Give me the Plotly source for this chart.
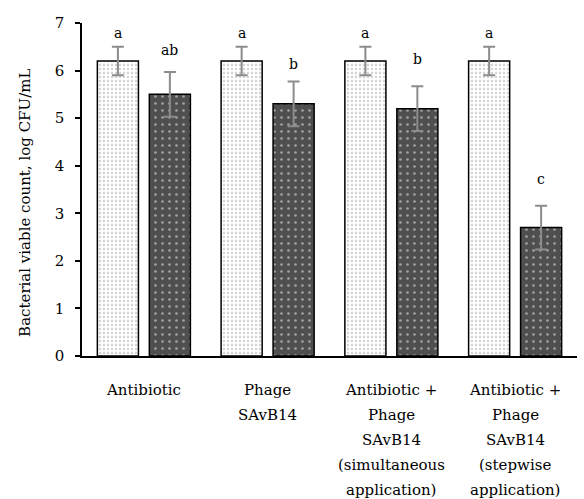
import plotly.graph_objects as go

# Treatment groups (multi-line category labels)
categories = [
    "Antibiotic",
    "Phage<br>SAvB14",
    "Antibiotic +<br>Phage<br>SAvB14<br>(simultaneous<br>application)",
    "Antibiotic +<br>Phage<br>SAvB14<br>(stepwise<br>application)",
]

# Bacterial viable counts (log CFU/mL) and their standard deviations
control_means = [6.2, 6.2, 6.2, 6.2]
control_sd = [0.3, 0.3, 0.3, 0.3]
treated_means = [5.5, 5.3, 5.2, 2.7]
treated_sd = [0.47, 0.47, 0.47, 0.46]

# Significance letters above each bar
control_letters = ["a", "a", "a", "a"]
treated_letters = ["ab", "b", "b", "c"]

FONT = "DejaVu Serif"
keys = [f"g{i}" for i in range(len(categories))]

fig = go.Figure()
fig.add_trace(go.Bar(
    x=keys, y=control_means,
    error_y=dict(type="data", array=control_sd, color="#8c8c8c", thickness=2, width=6),
    marker=dict(
        color="white",
        line=dict(color="black", width=1.5),
        pattern=dict(shape=".", fgcolor="#a8a8a8", bgcolor="white", size=4, solidity=0.3),
    ),
    showlegend=False,
))
fig.add_trace(go.Bar(
    x=keys, y=treated_means,
    error_y=dict(type="data", array=treated_sd, color="#8c8c8c", thickness=2, width=6),
    marker=dict(
        color="#4f4f4f",
        line=dict(color="black", width=1.5),
        pattern=dict(shape=".", fgcolor="#f2f2f2", bgcolor="#4f4f4f", size=7, solidity=0.12),
    ),
    showlegend=False,
))

annotations = []
# letters: control bars sit left of centre, treated bars right
letter_gap = [[14, 14, 14, 14], [22, 18, 27, 27]]
for series, (means, sds, letters, shift) in enumerate([
    (control_means, control_sd, control_letters, -0.21),
    (treated_means, treated_sd, treated_letters, 0.21),
]):
    for i, (m, s, t) in enumerate(zip(means, sds, letters)):
        annotations.append(dict(
            x=i + shift, y=m + s, xref="x", yref="y", text=t, showarrow=False,
            yshift=letter_gap[series][i], font=dict(family=FONT, size=14, color="black"),
        ))

# category labels, one annotation per line for a looser line spacing
for i, label in enumerate(categories):
    for j, line in enumerate(label.split("<br>")):
        annotations.append(dict(
            x=i, y=0, xref="x", yref="y", text=line, showarrow=False,
            yanchor="middle", yshift=-34 - 25 * j,
            font=dict(family=FONT, size=15, color="black"),
        ))

# vertical axis title
annotations.append(dict(
    x=-0.115, y=0.46, xref="paper", yref="paper", text="Bacterial viable count, log CFU/mL",
    textangle=-90, showarrow=False, xanchor="center", yanchor="middle",
    font=dict(family=FONT, size=15, color="black"),
))

fig.update_layout(
    width=584, height=499,
    margin=dict(l=82, r=7, t=23, b=143),
    paper_bgcolor="white", plot_bgcolor="white",
    barmode="group", bargap=0.16, bargroupgap=0.21,
    font=dict(family=FONT, size=14, color="black"),
    annotations=annotations,
    xaxis=dict(
        type="category", showticklabels=False, ticks="",
        showline=True, linecolor="black", linewidth=1.5, showgrid=False,
        range=[-0.5, 3.5],
    ),
    yaxis=dict(
        range=[0, 7], dtick=1, ticks="outside", ticklen=5, tickwidth=1.5, tickcolor="black",
        showline=True, linecolor="black", linewidth=1.5, showgrid=False, zeroline=False,
        tickfont=dict(family=FONT, size=15), ticklabelstandoff=8,
    ),
)

fig.write_html("out.html")
